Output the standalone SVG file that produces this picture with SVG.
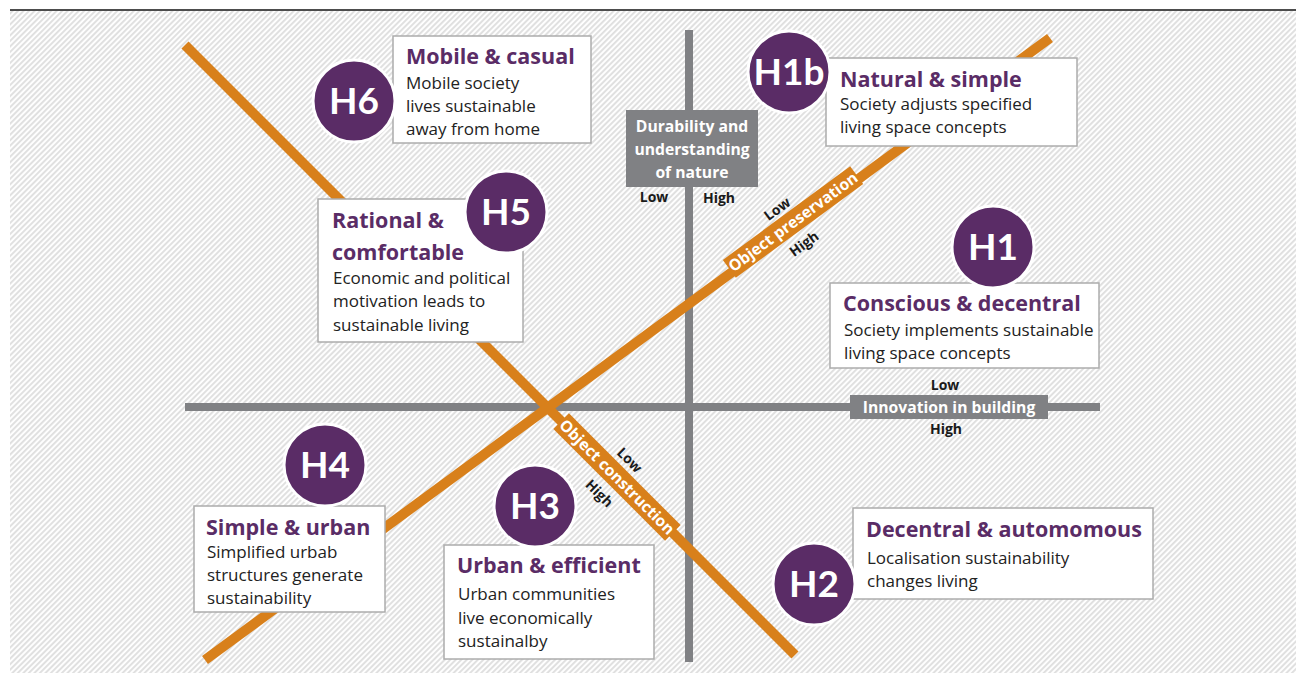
<svg xmlns="http://www.w3.org/2000/svg" width="1300" height="673" viewBox="0 0 1300 673">
<defs>
<pattern id="hatch" width="3.9" height="3.9" patternUnits="userSpaceOnUse" patternTransform="rotate(45)">
<rect width="3.9" height="3.9" fill="#ffffff"/>
<line x1="1" y1="0" x2="1" y2="3.9" stroke="#e0e0e0" stroke-width="2"/>
</pattern>
<style>
.box{fill:#ffffff;stroke:#acacac;stroke-width:1.5}
.circ{fill:#5a2c66;stroke:#ffffff;stroke-width:3}
.ct{font-family:Lato,"Open Sans",sans-serif;font-weight:bold;font-size:37px;fill:#ffffff;text-anchor:middle}
.ti{font-family:"Open Sans",Lato,sans-serif;font-weight:bold;font-size:21.5px;fill:#5a2c66}
.bd{font-family:"Open Sans",Lato,sans-serif;font-size:17px;fill:#222222}
.ax{stroke:#808184;stroke-width:8}
.or{stroke:#d8801b;stroke-width:10}
.axl{font-family:"Open Sans",Lato,sans-serif;font-weight:bold;font-size:15.7px;fill:#ffffff;text-anchor:middle}
.lh{font-family:"Open Sans",Lato,sans-serif;font-weight:bold;font-size:14px;fill:#1a1a1a;text-anchor:middle}
</style>
</defs>
<rect width="1300" height="673" fill="#ffffff"/>
<rect x="10" y="10" width="1286" height="663" fill="url(#hatch)"/>
<line x1="10" y1="10" x2="1296" y2="10" stroke="#4d4d4d" stroke-width="2"/>

<g id="connectors">
<line class="ax" x1="689" y1="30" x2="689" y2="662"/>
<line class="ax" x1="185" y1="407" x2="1100" y2="407"/>
<line class="or" x1="185" y1="45" x2="795" y2="655"/>
<line class="or" x1="205" y1="660" x2="1050" y2="38"/>
</g>

<g id="axis-labels">
<g id="label-durability">
<rect x="626" y="110" width="132" height="77" fill="#808184"/>
<text class="axl" x="692" y="132">Durability and</text>
<text class="axl" x="692" y="155">understanding</text>
<text class="axl" x="692" y="178">of nature</text>
<text class="lh" x="654" y="202">Low</text>
<text class="lh" x="719" y="203">High</text>
</g>
<g id="label-innovation">
<rect x="850" y="395" width="198" height="24" fill="#808184"/>
<text class="axl" x="949" y="413">Innovation in building</text>
<text class="lh" x="945" y="390">Low</text>
<text class="lh" x="946" y="434">High</text>
</g>
<g id="label-preservation" transform="translate(793,222) rotate(-36.3)">
<rect x="-79" y="-11" width="158" height="22" fill="#d8801b"/>
<text class="axl" x="0" y="5.5">Object preservation</text>
<text class="lh" x="-5" y="-15">Low</text>
<text class="lh" x="-4" y="29">High</text>
</g>
<g id="label-construction" transform="translate(617,477) rotate(45)">
<rect x="-79" y="-11" width="158" height="22" fill="#d8801b"/>
<text class="axl" x="0" y="5.5">Object construction</text>
<text class="lh" x="-3" y="-16">Low</text>
<text class="lh" x="-1" y="29">High</text>
</g>
</g>

<g id="node-H6">
<rect class="box" x="393" y="36" width="198" height="107"/>
<circle class="circ" cx="354" cy="101" r="41"/>
<text class="ct" x="354" y="114">H6</text>
<text class="ti" x="406" y="64">Mobile &amp; casual</text>
<text class="bd" x="406" y="89">Mobile society</text>
<text class="bd" x="406" y="112">lives sustainable</text>
<text class="bd" x="406" y="135">away from home</text>
</g>

<g id="node-H1b">
<rect class="box" x="826" y="58" width="251" height="88"/>
<circle class="circ" cx="789" cy="72" r="41"/>
<text class="ct" x="789" y="85">H1b</text>
<text class="ti" x="840" y="87">Natural &amp; simple</text>
<text class="bd" x="840" y="110">Society adjusts specified</text>
<text class="bd" x="840" y="133">living space concepts</text>
</g>

<g id="node-H5">
<rect class="box" x="318" y="199" width="205" height="143"/>
<circle class="circ" cx="506" cy="212" r="41"/>
<text class="ct" x="506" y="225">H5</text>
<text class="ti" x="332" y="228">Rational &amp;</text>
<text class="ti" x="332" y="260">comfortable</text>
<text class="bd" x="333" y="284">Economic and political</text>
<text class="bd" x="333" y="307">motivation leads to</text>
<text class="bd" x="333" y="331">sustainable living</text>
</g>

<g id="node-H1">
<rect class="box" x="830" y="283" width="269" height="85"/>
<circle class="circ" cx="993" cy="247" r="41"/>
<text class="ct" x="993" y="260">H1</text>
<text class="ti" x="843" y="311">Conscious &amp; decentral</text>
<text class="bd" x="844" y="336">Society implements sustainable</text>
<text class="bd" x="844" y="359">living space concepts</text>
</g>

<g id="node-H4">
<rect class="box" x="194" y="506" width="191" height="106"/>
<circle class="circ" cx="325" cy="465" r="41"/>
<text class="ct" x="325" y="478">H4</text>
<text class="ti" x="206" y="535">Simple &amp; urban</text>
<text class="bd" x="207" y="558">Simplified urbab</text>
<text class="bd" x="207" y="581">structures generate</text>
<text class="bd" x="207" y="604">sustainability</text>
</g>

<g id="node-H3">
<rect class="box" x="444" y="545" width="210" height="114"/>
<circle class="circ" cx="535" cy="506" r="41"/>
<text class="ct" x="535" y="519">H3</text>
<text class="ti" x="457" y="573">Urban &amp; efficient</text>
<text class="bd" x="458" y="600">Urban communities</text>
<text class="bd" x="458" y="624">live economically</text>
<text class="bd" x="458" y="647">sustainalby</text>
</g>

<g id="node-H2">
<rect class="box" x="853" y="508" width="300" height="91"/>
<circle class="circ" cx="814" cy="584" r="41"/>
<text class="ct" x="814" y="597">H2</text>
<text class="ti" x="866" y="537">Decentral &amp; automomous</text>
<text class="bd" x="867" y="564">Localisation sustainability</text>
<text class="bd" x="867" y="587">changes living</text>
</g>
</svg>
